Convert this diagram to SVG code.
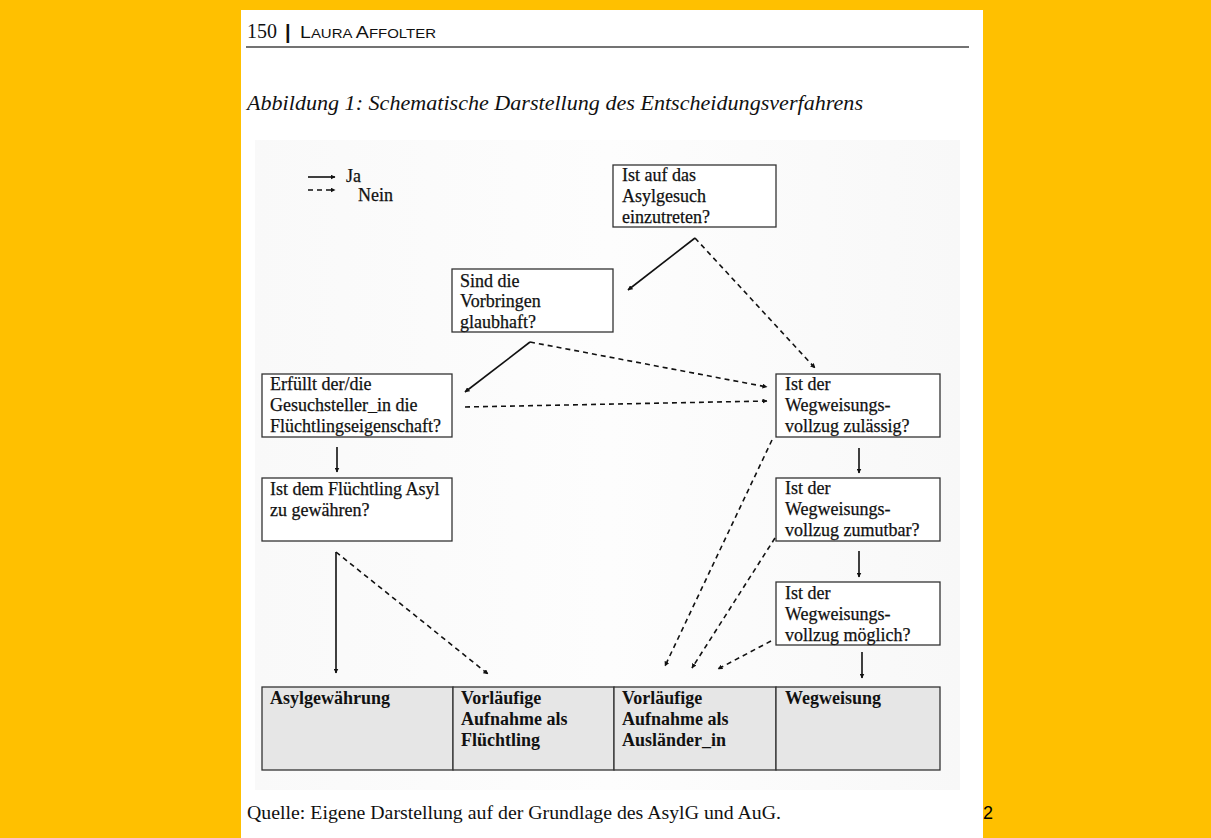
<svg xmlns="http://www.w3.org/2000/svg" width="1211" height="838" viewBox="0 0 1211 838">
<defs>
<marker id="ah" viewBox="0 0 10 10" refX="9" refY="5" markerWidth="5" markerHeight="5" orient="auto" markerUnits="userSpaceOnUse">
<path d="M0,0 L10,5 L0,10 z" fill="#111"/>
</marker>
<linearGradient id="bg" x1="0" y1="0" x2="1" y2="0">
<stop offset="0" stop-color="#f9f9f9"/>
<stop offset="0.5" stop-color="#fdfdfd"/>
<stop offset="1" stop-color="#f8f8f8"/>
</linearGradient>
</defs>
<style>
.box{fill:#fff;stroke:#333;stroke-width:1.3}
.res{fill:#e6e6e6;stroke:#333;stroke-width:1.3}
.t{font-family:"Liberation Serif",serif;font-size:18px;fill:#111;stroke:#111;stroke-width:0.25}
.b{font-family:"Liberation Serif",serif;font-size:18px;font-weight:bold;fill:#111}
.s{stroke:#111;stroke-width:1.6;fill:none;marker-end:url(#ah)}
.d{stroke:#111;stroke-width:1.6;fill:none;stroke-dasharray:5 4;marker-end:url(#ah)}
</style>
<rect x="0" y="0" width="1211" height="838" fill="#ffc000"/>
<rect x="241" y="10" width="742" height="828" fill="#fff"/>
<rect x="255" y="140" width="705" height="650" fill="url(#bg)"/>
<text x="247" y="38" font-family="Liberation Serif,serif" font-size="20" fill="#111">150</text>
<text x="285" y="39" font-family="Liberation Sans,sans-serif" font-size="20" font-weight="bold" fill="#111">|</text>
<text x="300" y="38" font-family="Liberation Sans,sans-serif" font-size="17" fill="#111" textLength="136" lengthAdjust="spacingAndGlyphs">L<tspan font-size="13">AURA </tspan>A<tspan font-size="13">FFOLTER</tspan></text>
<line x1="246" y1="47" x2="969" y2="47" stroke="#444" stroke-width="1.5"/>
<text x="247" y="110" font-family="Liberation Serif,serif" font-size="20" font-style="italic" fill="#111" textLength="616" lengthAdjust="spacingAndGlyphs">Abbildung 1: Schematische Darstellung des Entscheidungsverfahrens</text>
<g id="legend">
<line x1="308" y1="177" x2="335" y2="177" class="s"/>
<line x1="308" y1="190" x2="335" y2="190" class="d" stroke-dasharray="4 3"/>
<text x="346" y="182" class="t">Ja</text>
<text x="358" y="201" class="t">Nein</text>
</g>
<g id="nodeA"><rect x="613" y="165" width="163" height="62" class="box"/>
<text class="t"><tspan x="622" y="181">Ist auf das</tspan><tspan x="622" y="202">Asylgesuch</tspan><tspan x="622" y="223">einzutreten?</tspan></text></g>
<g id="nodeB"><rect x="452" y="269" width="161" height="63" class="box"/>
<text class="t"><tspan x="460" y="287">Sind die</tspan><tspan x="460" y="307">Vorbringen</tspan><tspan x="460" y="328">glaubhaft?</tspan></text></g>
<g id="nodeC"><rect x="262" y="374" width="190" height="63" class="box"/>
<text class="t"><tspan x="270" y="390">Erfüllt der/die</tspan><tspan x="270" y="411">Gesuchsteller_in die</tspan><tspan x="270" y="432">Flüchtlingseigenschaft?</tspan></text></g>
<g id="nodeD"><rect x="262" y="478" width="190" height="63" class="box"/>
<text class="t"><tspan x="270" y="495">Ist dem Flüchtling Asyl</tspan><tspan x="270" y="516">zu gewähren?</tspan></text></g>
<g id="nodeE"><rect x="776" y="374" width="164" height="63" class="box"/>
<text class="t"><tspan x="785" y="390">Ist der</tspan><tspan x="785" y="411">Wegweisungs-</tspan><tspan x="785" y="432">vollzug zulässig?</tspan></text></g>
<g id="nodeF"><rect x="776" y="478" width="164" height="63" class="box"/>
<text class="t"><tspan x="785" y="494">Ist der</tspan><tspan x="785" y="515">Wegweisungs-</tspan><tspan x="785" y="536">vollzug zumutbar?</tspan></text></g>
<g id="nodeG"><rect x="776" y="582" width="164" height="63" class="box"/>
<text class="t"><tspan x="785" y="599">Ist der</tspan><tspan x="785" y="620">Wegweisungs-</tspan><tspan x="785" y="641">vollzug möglich?</tspan></text></g>
<g id="res1"><rect x="262" y="687" width="191" height="83" class="res"/>
<text class="b"><tspan x="270" y="704">Asylgewährung</tspan></text></g>
<g id="res2"><rect x="453" y="687" width="161" height="83" class="res"/>
<text class="b"><tspan x="461" y="704">Vorläufige</tspan><tspan x="461" y="725">Aufnahme als</tspan><tspan x="461" y="746">Flüchtling</tspan></text></g>
<g id="res3"><rect x="614" y="687" width="162" height="83" class="res"/>
<text class="b"><tspan x="622" y="704">Vorläufige</tspan><tspan x="622" y="725">Aufnahme als</tspan><tspan x="622" y="746">Ausländer_in</tspan></text></g>
<g id="res4"><rect x="776" y="687" width="164" height="83" class="res"/>
<text class="b"><tspan x="785" y="704">Wegweisung</tspan></text></g>
<g id="connectors">
<line x1="695" y1="238" x2="628" y2="290" class="s"/>
<line x1="695" y1="238" x2="815" y2="368" class="d"/>
<line x1="530" y1="342" x2="465" y2="392" class="s"/>
<line x1="530" y1="342" x2="767" y2="387" class="d"/>
<line x1="465" y1="407" x2="767" y2="401" class="d"/>
<line x1="337" y1="447" x2="337" y2="472" class="s"/>
<line x1="336" y1="552" x2="336" y2="673" class="s"/>
<line x1="336" y1="552" x2="488" y2="674" class="d"/>
<line x1="772" y1="440" x2="665" y2="666" class="d"/>
<line x1="775" y1="538" x2="692" y2="668" class="d"/>
<line x1="771" y1="641" x2="718" y2="669" class="d"/>
<line x1="859" y1="448" x2="859" y2="473" class="s"/>
<line x1="859" y1="551" x2="859" y2="577" class="s"/>
<line x1="862" y1="652" x2="862" y2="678" class="s"/>
</g>
<text x="247" y="819" font-family="Liberation Serif,serif" font-size="19" fill="#111" textLength="534" lengthAdjust="spacingAndGlyphs">Quelle: Eigene Darstellung auf der Grundlage des AsylG und AuG.</text>
<text x="983" y="819" font-family="Liberation Sans,sans-serif" font-size="18" fill="#000">2</text>
</svg>
